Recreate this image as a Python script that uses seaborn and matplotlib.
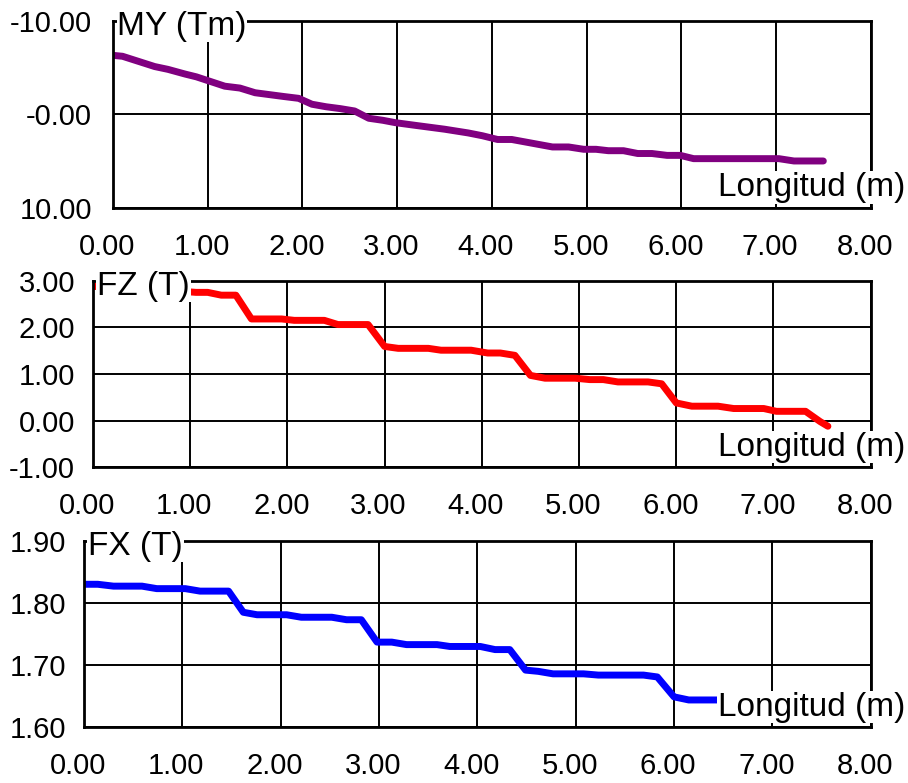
import numpy as np
import matplotlib
matplotlib.use('Agg')
import matplotlib.pyplot as plt
import seaborn as sns
from matplotlib.ticker import FormatStrFormatter
from matplotlib.transforms import ScaledTranslation

# values
my_x = [0, 0.1, 0.44, 0.58, 0.76, 0.88, 1.0, 1.18, 1.34, 1.5,
        1.65, 1.8, 1.96, 2.1, 2.25, 2.4, 2.55, 2.7, 2.85, 2.98,
        3.2, 3.5, 3.75, 3.9, 4.06, 4.21, 4.64, 4.81, 4.97, 5.1,
        5.23, 5.39, 5.54, 5.69, 5.85, 5.99, 6.13, 7.03, 7.19, 7.5]
my_y = [-6.3, -6.2, -5.1, -4.8, -4.3, -4.0, -3.6, -3.0, -2.8, -2.3,
        -2.1, -1.9, -1.7, -1.07, -0.8, -0.6, -0.35, 0.43, 0.65, 0.9,
        1.2, 1.6, 2.0, 2.3, 2.7, 2.7, 3.5, 3.5, 3.75, 3.75,
        3.9, 3.9, 4.2, 4.2, 4.4, 4.4, 4.75, 4.75, 5.0, 5.0]

fz_x = [0, 0.4, 0.8, 1.06, 1.18, 1.32, 1.47, 1.63, 1.94, 2.07,
        2.38, 2.52, 2.83, 3.0, 3.14, 3.45, 3.58, 3.89, 4.06, 4.19,
        4.34, 4.5, 4.65, 4.96, 5.11, 5.25, 5.4, 5.71, 5.85, 6.0,
        6.16, 6.43, 6.59, 6.9, 7.03, 7.33, 7.48, 7.56]
fz_y = [2.88, 2.82, 2.79, 2.75, 2.75, 2.69, 2.69, 2.18, 2.18, 2.15,
        2.15, 2.06, 2.06, 1.59, 1.55, 1.55, 1.51, 1.51, 1.45, 1.45,
        1.40, 0.97, 0.91, 0.91, 0.88, 0.88, 0.83, 0.83, 0.79, 0.38,
        0.31, 0.31, 0.26, 0.26, 0.2, 0.2, -0.02, -0.12]

fx_x = [0, 0.14, 0.3, 0.59, 0.74, 1.03, 1.18, 1.47, 1.62, 1.76,
        2.06, 2.21, 2.52, 2.67, 2.82, 2.98, 3.13, 3.28, 3.59, 3.72,
        4.03, 4.18, 4.33, 4.49, 4.62, 4.77, 5.08, 5.23, 5.69, 5.83,
        6.0, 6.15, 6.45]
fx_y = [1.830, 1.830, 1.827, 1.827, 1.823, 1.823, 1.819, 1.819, 1.785, 1.781,
        1.781, 1.777, 1.777, 1.773, 1.773, 1.737, 1.737, 1.733, 1.733, 1.730,
        1.730, 1.725, 1.725, 1.692, 1.690, 1.686, 1.686, 1.684, 1.684, 1.681,
        1.649, 1.644, 1.644]

x_ticks = [0, 1, 2, 3, 4, 5, 6, 7, 8]
my_ticks = [-10, 0, 10]
my_ticklabels = ['-10.00', '-0.00', '10.00']
fz_ticks = [-1, 0, 1, 2, 3]
fx_ticks = [1.6, 1.7, 1.8, 1.9]

sns.set_style('white')
plt.rcParams['font.family'] = ['Liberation Sans', 'DejaVu Sans']
plt.rcParams['text.color'] = 'black'

fig = plt.figure(figsize=(9.08, 7.83), dpi=100)
ax1 = fig.add_axes([0.1245, 0.7347, 0.8344, 0.2388])
ax2 = fig.add_axes([0.1024, 0.4032, 0.8565, 0.2383])
ax3 = fig.add_axes([0.0925, 0.0711, 0.8664, 0.2383])

sns.lineplot(x=my_x, y=my_y, ax=ax1, color='#800080', linewidth=5, sort=False)
sns.lineplot(x=fz_x, y=fz_y, ax=ax2, color='#ff0000', linewidth=5, sort=False)
sns.lineplot(x=fx_x, y=fx_y, ax=ax3, color='#0000ff', linewidth=5, sort=False)

shift_left = ScaledTranslation(-6 / 100, 0, fig.dpi_scale_trans)


def style_panel(ax, title, ypad):
    ax.set_xlim(0, 8)
    ax.set_xticks(x_ticks)
    ax.xaxis.set_major_formatter(FormatStrFormatter('%.2f'))
    ax.grid(True, color='black', linewidth=1.4)
    ax.tick_params(length=0, labelsize=21, colors='black')
    ax.tick_params(axis='x', pad=18)
    ax.tick_params(axis='y', pad=ypad)
    for lbl in ax.get_xticklabels():
        lbl.set_transform(lbl.get_transform() + shift_left)
    for s in ax.spines.values():
        s.set_visible(True)
        s.set_color('black')
        s.set_linewidth(2)
    ax.set_xlabel('')
    ax.set_ylabel('')
    box = dict(facecolor='white', edgecolor='none', pad=0.5)
    ax.annotate(title, xy=(0, 1), xycoords='axes fraction', xytext=(3, -4),
                textcoords='offset points', ha='left', va='center', fontsize=24,
                color='black', bbox=box, zorder=10, annotation_clip=False)
    ax.annotate('Longitud (m)', xy=(1, 0), xycoords='axes fraction', xytext=(24.7, 14.5),
                textcoords='offset points', ha='right', va='center', fontsize=24,
                color='black', bbox=box, zorder=10, annotation_clip=False)


ax1.set_ylim(10, -10)
ax1.set_yticks(my_ticks)
ax1.set_yticklabels(my_ticklabels)
style_panel(ax1, 'MY (Tm)', 15)

ax2.set_ylim(-1, 3)
ax2.set_yticks(fz_ticks)
ax2.yaxis.set_major_formatter(FormatStrFormatter('%.2f'))
style_panel(ax2, 'FZ (T)', 13)

ax3.set_ylim(1.6, 1.9)
ax3.set_yticks(fx_ticks)
ax3.yaxis.set_major_formatter(FormatStrFormatter('%.2f'))
style_panel(ax3, 'FX (T)', 13)

plt.savefig('out.png', dpi=100)
